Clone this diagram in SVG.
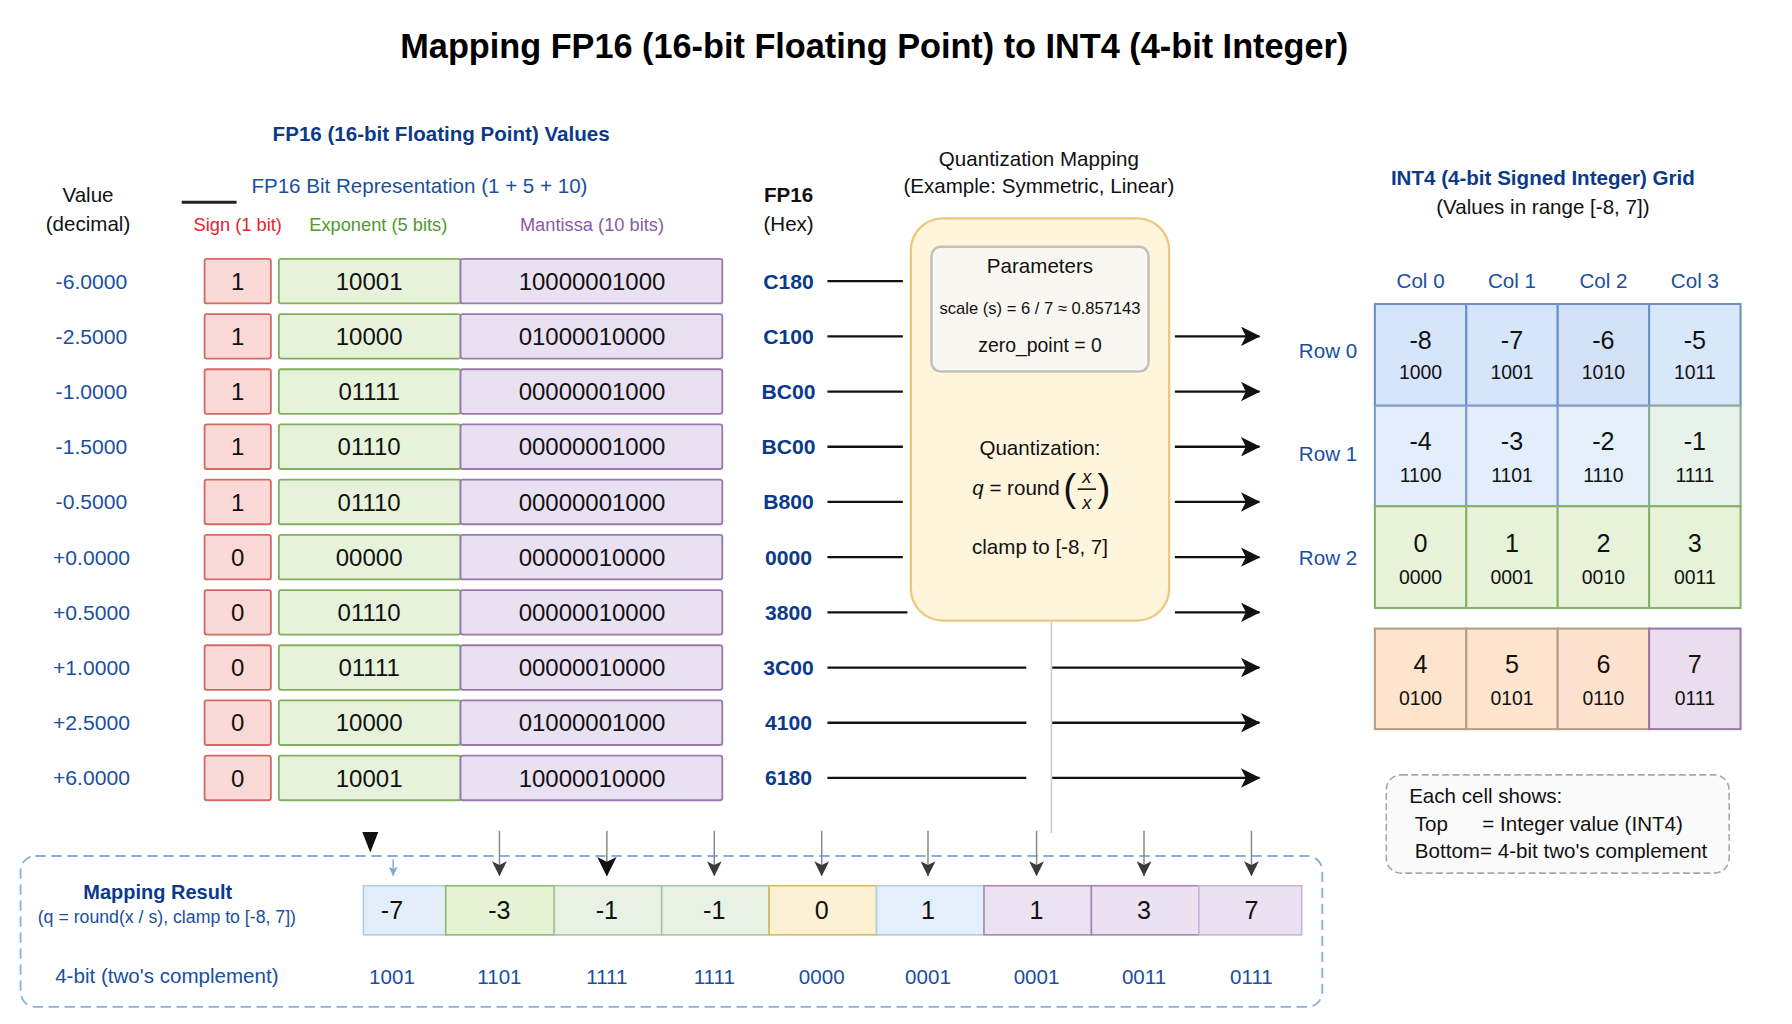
<svg xmlns="http://www.w3.org/2000/svg" width="1792" height="1024" viewBox="0 0 1792 1024">
<defs>
<style>
text{font-family:"Liberation Sans",Arial,sans-serif;}
.t{font-size:18px;fill:#111;}
.c{text-anchor:middle;}
.hb{font-weight:bold;fill:#0b3a8a;font-size:18px;}
.blue{fill:#1a4f9e;font-size:18px;}
.val{fill:#1a4f9e;font-size:18.5px;text-anchor:middle;}
.hex{fill:#0b3a8a;font-size:18.5px;font-weight:bold;text-anchor:middle;}
.bit{fill:#111;font-size:21px;text-anchor:middle;}
.sg{fill:#fad9d7;stroke:#d46a66;stroke-width:1.6;}
.ex{fill:#e6f2da;stroke:#7fb05e;stroke-width:1.6;}
.ma{fill:#e9e0f1;stroke:#9a78b0;stroke-width:1.6;}
.cv{fill:#111;font-size:22px;text-anchor:middle;}
.cb{fill:#111;font-size:17px;text-anchor:middle;}
.ln{stroke:#111;stroke-width:2;fill:none;}
.dn{stroke:#888;stroke-width:1.3;fill:none;}
</style>
<marker id="ah" viewBox="0 0 10 10" refX="9.5" refY="5" markerUnits="userSpaceOnUse" markerWidth="20" markerHeight="17" orient="auto">
<path d="M0,0 L10,5 L0,10 L2.5,5 z" fill="#111"/>
</marker>
<marker id="dh" viewBox="0 0 10 10" refX="9.5" refY="5" markerUnits="userSpaceOnUse" markerWidth="16" markerHeight="13" orient="auto">
<path d="M0,0 L10,5 L0,10 L2.5,5 z" fill="#3a3a3a"/>
</marker>
<marker id="bh" viewBox="0 0 10 10" refX="9.5" refY="5" markerUnits="userSpaceOnUse" markerWidth="10" markerHeight="8" orient="auto">
<path d="M0,0 L10,5 L0,10 L2.5,5 z" fill="#7fa6d6"/>
</marker>
</defs>
<rect x="0" y="0" width="1792" height="1024" fill="#ffffff"/>
<g transform="scale(1.142857)">

<g id="title">
<text x="765" y="51" class="c" style="font-size:30px;font-weight:bold;fill:#000">Mapping FP16 (16-bit Floating Point) to INT4 (4-bit Integer)</text>
</g>

<g id="fp16-header">
<text x="386" y="123" class="hb c">FP16 (16-bit Floating Point) Values</text>
<text x="77" y="177" class="t c">Value</text>
<text x="77" y="202" class="t c">(decimal)</text>
<line x1="159" y1="177" x2="207" y2="177" stroke="#222" stroke-width="2.5"/>
<text x="367" y="169" class="blue c">FP16 Bit Representation (1 + 5 + 10)</text>
<text x="208" y="202" class="c" style="fill:#e8232b;font-size:16px">Sign (1 bit)</text>
<text x="331" y="202" class="c" style="fill:#4e9a2e;font-size:16px">Exponent (5 bits)</text>
<text x="518" y="202" class="c" style="fill:#8a5aa8;font-size:16px">Mantissa (10 bits)</text>
<text x="690" y="177" class="t c" style="font-weight:bold">FP16</text>
<text x="690" y="202" class="t c">(Hex)</text>
</g>

<g id="fp16-rows">
<g id="row-m6"><text x="80" y="252.5" class="val">-6.0000</text><rect x="179" y="226.5" width="58" height="39" rx="2" class="sg"/><rect x="244" y="226.5" width="159" height="39" rx="2" class="ex"/><rect x="403" y="226.5" width="229" height="39" rx="2" class="ma"/><text x="208" y="253.5" class="bit">1</text><text x="323" y="253.5" class="bit">10001</text><text x="518" y="253.5" class="bit">10000001000</text><text x="690" y="252.5" class="hex">C180</text></g>
<g id="row-m25"><text x="80" y="300.8" class="val">-2.5000</text><rect x="179" y="274.8" width="58" height="39" rx="2" class="sg"/><rect x="244" y="274.8" width="159" height="39" rx="2" class="ex"/><rect x="403" y="274.8" width="229" height="39" rx="2" class="ma"/><text x="208" y="301.8" class="bit">1</text><text x="323" y="301.8" class="bit">10000</text><text x="518" y="301.8" class="bit">01000010000</text><text x="690" y="300.8" class="hex">C100</text></g>
<g id="row-m1"><text x="80" y="349.1" class="val">-1.0000</text><rect x="179" y="323.1" width="58" height="39" rx="2" class="sg"/><rect x="244" y="323.1" width="159" height="39" rx="2" class="ex"/><rect x="403" y="323.1" width="229" height="39" rx="2" class="ma"/><text x="208" y="350.1" class="bit">1</text><text x="323" y="350.1" class="bit">01111</text><text x="518" y="350.1" class="bit">00000001000</text><text x="690" y="349.1" class="hex">BC00</text></g>
<g id="row-m15"><text x="80" y="397.4" class="val">-1.5000</text><rect x="179" y="371.4" width="58" height="39" rx="2" class="sg"/><rect x="244" y="371.4" width="159" height="39" rx="2" class="ex"/><rect x="403" y="371.4" width="229" height="39" rx="2" class="ma"/><text x="208" y="398.4" class="bit">1</text><text x="323" y="398.4" class="bit">01110</text><text x="518" y="398.4" class="bit">00000001000</text><text x="690" y="397.4" class="hex">BC00</text></g>
<g id="row-m05"><text x="80" y="445.7" class="val">-0.5000</text><rect x="179" y="419.7" width="58" height="39" rx="2" class="sg"/><rect x="244" y="419.7" width="159" height="39" rx="2" class="ex"/><rect x="403" y="419.7" width="229" height="39" rx="2" class="ma"/><text x="208" y="446.7" class="bit">1</text><text x="323" y="446.7" class="bit">01110</text><text x="518" y="446.7" class="bit">00000001000</text><text x="690" y="445.7" class="hex">B800</text></g>
<g id="row-p0"><text x="80" y="494" class="val">+0.0000</text><rect x="179" y="468" width="58" height="39" rx="2" class="sg"/><rect x="244" y="468" width="159" height="39" rx="2" class="ex"/><rect x="403" y="468" width="229" height="39" rx="2" class="ma"/><text x="208" y="495" class="bit">0</text><text x="323" y="495" class="bit">00000</text><text x="518" y="495" class="bit">00000010000</text><text x="690" y="494" class="hex">0000</text></g>
<g id="row-p05"><text x="80" y="542.3" class="val">+0.5000</text><rect x="179" y="516.3" width="58" height="39" rx="2" class="sg"/><rect x="244" y="516.3" width="159" height="39" rx="2" class="ex"/><rect x="403" y="516.3" width="229" height="39" rx="2" class="ma"/><text x="208" y="543.3" class="bit">0</text><text x="323" y="543.3" class="bit">01110</text><text x="518" y="543.3" class="bit">00000010000</text><text x="690" y="542.3" class="hex">3800</text></g>
<g id="row-p1"><text x="80" y="590.6" class="val">+1.0000</text><rect x="179" y="564.6" width="58" height="39" rx="2" class="sg"/><rect x="244" y="564.6" width="159" height="39" rx="2" class="ex"/><rect x="403" y="564.6" width="229" height="39" rx="2" class="ma"/><text x="208" y="591.6" class="bit">0</text><text x="323" y="591.6" class="bit">01111</text><text x="518" y="591.6" class="bit">00000010000</text><text x="690" y="590.6" class="hex">3C00</text></g>
<g id="row-p25"><text x="80" y="638.9" class="val">+2.5000</text><rect x="179" y="612.9" width="58" height="39" rx="2" class="sg"/><rect x="244" y="612.9" width="159" height="39" rx="2" class="ex"/><rect x="403" y="612.9" width="229" height="39" rx="2" class="ma"/><text x="208" y="639.9" class="bit">0</text><text x="323" y="639.9" class="bit">10000</text><text x="518" y="639.9" class="bit">01000001000</text><text x="690" y="638.9" class="hex">4100</text></g>
<g id="row-p6"><text x="80" y="687.2" class="val">+6.0000</text><rect x="179" y="661.2" width="58" height="39" rx="2" class="sg"/><rect x="244" y="661.2" width="159" height="39" rx="2" class="ex"/><rect x="403" y="661.2" width="229" height="39" rx="2" class="ma"/><text x="208" y="688.2" class="bit">0</text><text x="323" y="688.2" class="bit">10001</text><text x="518" y="688.2" class="bit">10000010000</text><text x="690" y="687.2" class="hex">6180</text></g>
</g>

<g id="quantization">
<text x="909" y="145" class="t c">Quantization Mapping</text>
<text x="909" y="169" class="t c">(Example: Symmetric, Linear)</text>
<rect x="797" y="191" width="226" height="352" rx="28" fill="#fff5dd" stroke="#ebc97c" stroke-width="2"/>
<g id="parameters">
<rect x="815" y="216" width="190" height="109" rx="8" fill="#f9f7f1" stroke="#c3c0ba" stroke-width="2.2"/>
<text x="910" y="239" class="t c">Parameters</text>
<text x="910" y="275" class="c" style="font-size:14.5px;fill:#111">scale (s) = 6 / 7 ≈ 0.857143</text>
<text x="910" y="308" class="c" style="font-size:17px;fill:#111">zero_point = 0</text>
</g>
<text x="910" y="398" class="t c">Quantization:</text>
<text x="889" y="433" class="t c"><tspan font-style="italic">q</tspan> = round</text>
<text x="936" y="438" style="font-size:34px;fill:#111;text-anchor:middle">(</text>
<text x="966" y="438" style="font-size:34px;fill:#111;text-anchor:middle">)</text>
<text x="951" y="423" style="font-size:16px;fill:#111;text-anchor:middle;font-style:italic">x</text>
<line x1="943" y1="428" x2="959" y2="428" stroke="#111" stroke-width="1.4"/>
<text x="951" y="445" style="font-size:16px;fill:#111;text-anchor:middle;font-style:italic">x</text>
<text x="910" y="485" class="t c">clamp to [-8, 7]</text>
</g>

<g id="int4-grid">
<text x="1350" y="162" class="hb c">INT4 (4-bit Signed Integer) Grid</text>
<text x="1350" y="187" class="t c">(Values in range [-8, 7])</text>
<text x="1243" y="252" class="blue c">Col 0</text>
<text x="1323" y="252" class="blue c">Col 1</text>
<text x="1403" y="252" class="blue c">Col 2</text>
<text x="1483" y="252" class="blue c">Col 3</text>
<text x="1162" y="313" class="blue c">Row 0</text>
<text x="1162" y="403" class="blue c">Row 1</text>
<text x="1162" y="494" class="blue c">Row 2</text>
<g id="cell-m8"><rect x="1203" y="266" width="80" height="89" fill="#d6e5fa" stroke="#6c8fc7" stroke-width="1.8"/><text x="1243" y="305" class="cv">-8</text><text x="1243" y="332" class="cb">1000</text></g>
<g id="cell-m7"><rect x="1283" y="266" width="80" height="89" fill="#d6e5fa" stroke="#6c8fc7" stroke-width="1.8"/><text x="1323" y="305" class="cv">-7</text><text x="1323" y="332" class="cb">1001</text></g>
<g id="cell-m6"><rect x="1363" y="266" width="80" height="89" fill="#d3e1f7" stroke="#6c8fc7" stroke-width="1.8"/><text x="1403" y="305" class="cv">-6</text><text x="1403" y="332" class="cb">1010</text></g>
<g id="cell-m5"><rect x="1443" y="266" width="80" height="89" fill="#d9e7fa" stroke="#6c8fc7" stroke-width="1.8"/><text x="1483" y="305" class="cv">-5</text><text x="1483" y="332" class="cb">1011</text></g>
<g id="cell-m4"><rect x="1203" y="355" width="80" height="88" fill="#e2eefb" stroke="#7d9cc9" stroke-width="1.8"/><text x="1243" y="394" class="cv">-4</text><text x="1243" y="422" class="cb">1100</text></g>
<g id="cell-m3"><rect x="1283" y="355" width="80" height="88" fill="#e2eefb" stroke="#7d9cc9" stroke-width="1.8"/><text x="1323" y="394" class="cv">-3</text><text x="1323" y="422" class="cb">1101</text></g>
<g id="cell-m2"><rect x="1363" y="355" width="80" height="88" fill="#e3f0fa" stroke="#7d9cc9" stroke-width="1.8"/><text x="1403" y="394" class="cv">-2</text><text x="1403" y="422" class="cb">1110</text></g>
<g id="cell-m1"><rect x="1443" y="355" width="80" height="88" fill="#e6f2ea" stroke="#8aac9a" stroke-width="1.8"/><text x="1483" y="394" class="cv">-1</text><text x="1483" y="422" class="cb">1111</text></g>
<g id="cell-0"><rect x="1203" y="443" width="80" height="89" fill="#e7f3d8" stroke="#86b069" stroke-width="1.8"/><text x="1243" y="483" class="cv">0</text><text x="1243" y="511" class="cb">0000</text></g>
<g id="cell-1"><rect x="1283" y="443" width="80" height="89" fill="#e7f3d8" stroke="#86b069" stroke-width="1.8"/><text x="1323" y="483" class="cv">1</text><text x="1323" y="511" class="cb">0001</text></g>
<g id="cell-2"><rect x="1363" y="443" width="80" height="89" fill="#e7f3d8" stroke="#86b069" stroke-width="1.8"/><text x="1403" y="483" class="cv">2</text><text x="1403" y="511" class="cb">0010</text></g>
<g id="cell-3"><rect x="1443" y="443" width="80" height="89" fill="#e7f3d8" stroke="#86b069" stroke-width="1.8"/><text x="1483" y="483" class="cv">3</text><text x="1483" y="511" class="cb">0011</text></g>
<g id="cell-4"><rect x="1203" y="550" width="80" height="88" fill="#fde4cd" stroke="#b89c84" stroke-width="1.8"/><text x="1243" y="589" class="cv">4</text><text x="1243" y="617" class="cb">0100</text></g>
<g id="cell-5"><rect x="1283" y="550" width="80" height="88" fill="#fde4cd" stroke="#b89c84" stroke-width="1.8"/><text x="1323" y="589" class="cv">5</text><text x="1323" y="617" class="cb">0101</text></g>
<g id="cell-6"><rect x="1363" y="550" width="80" height="88" fill="#fde2cf" stroke="#b89c84" stroke-width="1.8"/><text x="1403" y="589" class="cv">6</text><text x="1403" y="617" class="cb">0110</text></g>
<g id="cell-7"><rect x="1443" y="550" width="80" height="88" fill="#e9ddee" stroke="#9878ab" stroke-width="1.8"/><text x="1483" y="589" class="cv">7</text><text x="1483" y="617" class="cb">0111</text></g>
</g>

<g id="legend">
<rect x="1213" y="678" width="300" height="86" rx="13" fill="#fafafa" stroke="#a8a8a8" stroke-width="1.4" stroke-dasharray="6 3"/>
<text x="1233" y="703" class="t">Each cell shows:</text>
<text x="1238" y="727" class="t" xml:space="preserve">Top      = Integer value (INT4)</text>
<text x="1238" y="751" class="t">Bottom= 4-bit two's complement</text>
</g>

<g id="mapping-result">
<rect x="18" y="749" width="1139" height="132" rx="13" fill="none" stroke="#8aafdc" stroke-width="1.6" stroke-dasharray="9 5"/>
<text x="138" y="787" class="c" style="font-size:17.5px;font-weight:bold;fill:#0b3a8a">Mapping Result</text>
<text x="146" y="808" class="c" style="font-size:15.5px;fill:#1a4f9e">(q = round(x / s), clamp to [-8, 7])</text>
<text x="146" y="860" class="blue c">4-bit (two's complement)</text>
<g id="res-0"><rect x="318" y="775" width="72" height="43" fill="#e3eefa" stroke="#b2cbe8" stroke-width="1.4"/><text x="343" y="804" class="cv">-7</text></g>
<g id="res-1"><rect x="390" y="775" width="95" height="43" fill="#e5f2d3" stroke="#8fb86c" stroke-width="1.4"/><text x="437" y="804" class="cv">-3</text></g>
<g id="res-2"><rect x="485" y="775" width="94" height="43" fill="#e7f2e5" stroke="#a9c3a4" stroke-width="1.4"/><text x="531" y="804" class="cv">-1</text></g>
<g id="res-3"><rect x="579" y="775" width="94" height="43" fill="#e7f2e5" stroke="#a9c3a4" stroke-width="1.4"/><text x="625" y="804" class="cv">-1</text></g>
<g id="res-4"><rect x="673" y="775" width="94" height="43" fill="#fdf1d4" stroke="#d9b85e" stroke-width="1.4"/><text x="719" y="804" class="cv">0</text></g>
<g id="res-5"><rect x="767" y="775" width="94" height="43" fill="#e3effb" stroke="#b2cbe8" stroke-width="1.4"/><text x="812" y="804" class="cv">1</text></g>
<g id="res-6"><rect x="861" y="775" width="94" height="43" fill="#ece3f2" stroke="#a48aae" stroke-width="1.4"/><text x="907" y="804" class="cv">1</text></g>
<g id="res-7"><rect x="955" y="775" width="94" height="43" fill="#ebe1f1" stroke="#a587b8" stroke-width="1.4"/><text x="1001" y="804" class="cv">3</text></g>
<g id="res-8"><rect x="1049" y="775" width="90" height="43" fill="#ebe1f1" stroke="#c9b5d6" stroke-width="1.4"/><text x="1095" y="804" class="cv">7</text></g>
<text x="343" y="861" class="blue c">1001</text>
<text x="437" y="861" class="blue c">1101</text>
<text x="531" y="861" class="blue c">1111</text>
<text x="625" y="861" class="blue c">1111</text>
<text x="719" y="861" class="blue c">0000</text>
<text x="812" y="861" class="blue c">0001</text>
<text x="907" y="861" class="blue c">0001</text>
<text x="1001" y="861" class="blue c">0011</text>
<text x="1095" y="861" class="blue c">0111</text>
</g>

<g id="connectors">
<line x1="724" y1="246" x2="790" y2="246" class="ln"/>
<line x1="724" y1="294.3" x2="790" y2="294.3" class="ln"/>
<line x1="724" y1="342.6" x2="790" y2="342.6" class="ln"/>
<line x1="724" y1="390.9" x2="790" y2="390.9" class="ln"/>
<line x1="724" y1="439.2" x2="790" y2="439.2" class="ln"/>
<line x1="724" y1="487.5" x2="790" y2="487.5" class="ln"/>
<line x1="724" y1="535.8" x2="794" y2="535.8" class="ln"/>
<line x1="724" y1="584.1" x2="898" y2="584.1" class="ln"/>
<line x1="724" y1="632.4" x2="898" y2="632.4" class="ln"/>
<line x1="724" y1="680.7" x2="898" y2="680.7" class="ln"/>
<line x1="1028" y1="294.3" x2="1102" y2="294.3" class="ln" marker-end="url(#ah)"/>
<line x1="1028" y1="342.6" x2="1102" y2="342.6" class="ln" marker-end="url(#ah)"/>
<line x1="1028" y1="390.9" x2="1102" y2="390.9" class="ln" marker-end="url(#ah)"/>
<line x1="1028" y1="439.2" x2="1102" y2="439.2" class="ln" marker-end="url(#ah)"/>
<line x1="1028" y1="487.5" x2="1102" y2="487.5" class="ln" marker-end="url(#ah)"/>
<line x1="1028" y1="535.8" x2="1102" y2="535.8" class="ln" marker-end="url(#ah)"/>
<line x1="920" y1="584.1" x2="1102" y2="584.1" class="ln" marker-end="url(#ah)"/>
<line x1="920" y1="632.4" x2="1102" y2="632.4" class="ln" marker-end="url(#ah)"/>
<line x1="920" y1="680.7" x2="1102" y2="680.7" class="ln" marker-end="url(#ah)"/>
<line x1="920" y1="543" x2="920" y2="729" stroke="#cfcfcf" stroke-width="1.5"/>
<path d="M317,728 L331,728 L324,746 z" fill="#111"/>
<line x1="344" y1="752" x2="344" y2="766" stroke="#7fa6d6" stroke-width="1.2" marker-end="url(#bh)"/>
<line x1="437" y1="727" x2="437" y2="766" class="dn" marker-end="url(#dh)"/>
<line x1="531" y1="727" x2="531" y2="766" class="dn" marker-end="url(#ah)"/>
<line x1="625" y1="727" x2="625" y2="766" class="dn" marker-end="url(#dh)"/>
<line x1="719" y1="727" x2="719" y2="766" class="dn" marker-end="url(#dh)"/>
<line x1="812" y1="727" x2="812" y2="766" class="dn" marker-end="url(#dh)"/>
<line x1="907" y1="727" x2="907" y2="766" class="dn" marker-end="url(#dh)"/>
<line x1="1001" y1="727" x2="1001" y2="766" class="dn" marker-end="url(#dh)"/>
<line x1="1095" y1="727" x2="1095" y2="766" class="dn" marker-end="url(#dh)"/>
</g>
</g>
</svg>
